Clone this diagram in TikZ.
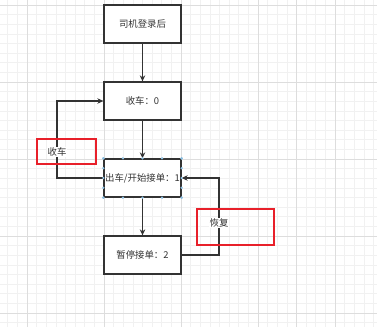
\documentclass[tikz,border=0pt]{standalone}
\usepackage{fontspec}
\newfontfamily\cjk{Noto Sans CJK SC}
\usetikzlibrary{arrows.meta,calc}
\definecolor{lineC}{HTML}{333333}
\definecolor{gridMinor}{HTML}{F1F1F1}
\definecolor{gridMajor}{HTML}{DDDDDD}
\definecolor{redC}{HTML}{E8202A}
\definecolor{handleC}{HTML}{8DBFE0}
\tikzset{
  stbox/.style={draw=lineC, line width=1.3pt, fill=white, minimum width=77pt, minimum height=38pt,
    inner sep=0pt, text=lineC, font=\cjk\fontsize{9.4}{11}\selectfont},
  conn/.style={draw=lineC, line width=1.1pt, -{Stealth[length=6pt,width=5.5pt]}},
  lbl/.style={fill=white, inner sep=1pt, text=lineC, font=\cjk\fontsize{9.4}{11}\selectfont},
  redbox/.style={draw=redC, line width=1.8pt},
  handle/.style={fill=handleC, draw=none}
}
\begin{document}
\begin{tikzpicture}[x=1pt,y=-1pt]
\useasboundingbox (0,0) rectangle (377,327);
\fill[white] (0,0) rectangle (377,327);
% grid
\foreach \k in {0,...,38} {\draw[gridMinor, line width=0.6pt] ({7.75+9.625*\k},0) -- ({7.75+9.625*\k},327);}
\foreach \k in {-1,...,33} {\draw[gridMinor, line width=0.6pt] (0,{5+9.625*\k}) -- (377,{5+9.625*\k});}
\foreach \x in {27,104,181,258,296,335} {\draw[gridMajor, line width=0.8pt] (\x,0) -- (\x,327);}
\foreach \y in {5,82,159,236,313} {\draw[gridMajor, line width=0.8pt] (0,\y) -- (377,\y);}
% boxes
\node[stbox] (b1) at (142.5,24) {司机登录后};
\node[stbox] (b2) at (142.5,101) {收车：0};
\node[stbox] (b3) at (142.5,178) {出车/开始接单：1};
\node[stbox] (b4) at (142.5,255) {暂停接单：2};
% connectors
\draw[conn] (b1) -- (b2);
\draw[conn] (b2) -- (b3);
\draw[conn] (b3) -- (b4);
\coordinate (cl) at (57,178);
\coordinate (cr) at (219,255);
\draw[conn] (b3.west) -- (cl) |- (b2.west);
\draw[conn] (b4.east) -- (cr) |- (b3.east);
% labels
\node[lbl] (l1) at (57,152) {收车};
\node[lbl] (l2) at (219,223) {恢复};
% red highlight boxes
\draw[redbox] (37,139) rectangle (96,164);
\draw[redbox] (197,209) rectangle (274,245);
% selection handles on b3
\foreach \t in {0,0.25,0.5,0.75,1} {
  \fill[handle] ($(b3.north west)!\t!(b3.north east)$) circle (1.3pt);
  \fill[handle] ($(b3.south west)!\t!(b3.south east)$) circle (1.3pt);
  \fill[handle] ($(b3.north west)!\t!(b3.south west)$) circle (1.3pt);
  \fill[handle] ($(b3.north east)!\t!(b3.south east)$) circle (1.3pt);
}
\end{tikzpicture}
\end{document}
